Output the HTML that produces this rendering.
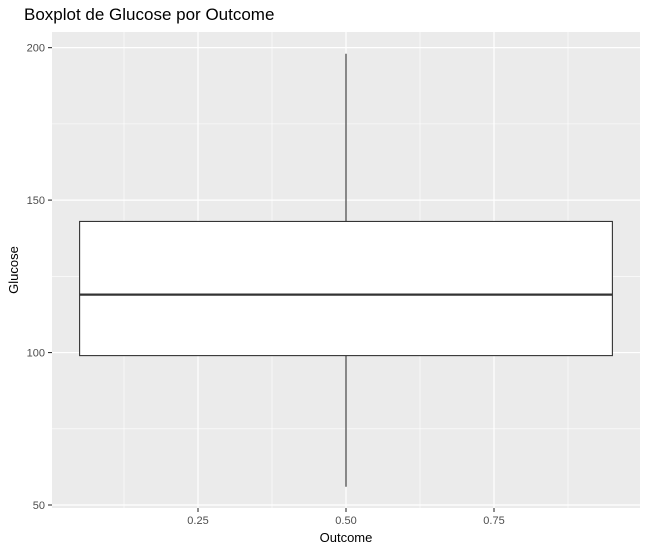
<!DOCTYPE html>
<html><head><meta charset="utf-8"><style>
body{margin:0;background:#fff;font-family:"Liberation Sans",sans-serif}
</style></head><body>
<svg id="c" width="647" height="553" xmlns="http://www.w3.org/2000/svg">
<text x="24" y="20" font-size="17" fill="#000">Boxplot de Glucose por Outcome</text>
<rect x="52" y="32" width="588" height="476" fill="#ebebeb"/>
<g id="grid"></g><g id="box"></g><g id="axes"></g>
<text x="346" y="542" font-size="13" text-anchor="middle" fill="#000">Outcome</text>
<text transform="translate(18,270) rotate(-90)" font-size="13" text-anchor="middle" fill="#000">Glucose</text>
</svg>
<script>
const yTicks=[50,100,150,200];
const yMinor=[75,125,175];
const xTicks=[0.25,0.5,0.75];
const xTickLabels=["0.25","0.50","0.75"];
const xMinor=[0.125,0.375,0.625,0.875];
const stats=[56,99,119,143,198]; // lower whisker, Q1, median, Q3, upper whisker
const boxCenter=[0.5];
const boxWidth=[0.9];
const NS="http://www.w3.org/2000/svg";
const X=v=>346+(v-0.5)*592;
const Y=v=>505-(v-50)*3.049;
function mk(p,t,a){const e=document.createElementNS(NS,t);for(const k in a)e.setAttribute(k,a[k]);document.getElementById(p).appendChild(e);return e;}
yMinor.forEach(v=>{const e=mk('grid','line',{x1:52,x2:640,y1:Y(v),y2:Y(v),stroke:'#fff','stroke-width':0.6});

});
xMinor.forEach(v=>{const e=mk('grid','line',{x1:X(v),x2:X(v),y1:32,y2:508,stroke:'#fff','stroke-width':0.6});

});
yTicks.forEach(v=>{const e=mk('grid','line',{x1:52,x2:640,y1:Y(v),y2:Y(v),stroke:'#fff','stroke-width':1.2});


const t=mk('axes','line',{x1:48,x2:52,y1:Y(v),y2:Y(v),stroke:'#333','stroke-width':1.1});


const l=mk('axes','text',{x:45,y:Y(v)+4,'font-size':11,'text-anchor':'end',fill:'#4d4d4d'});l.textContent=v;

});
xTicks.forEach((v,i)=>{const e=mk('grid','line',{x1:X(v),x2:X(v),y1:32,y2:508,stroke:'#fff','stroke-width':1.2});


const t=mk('axes','line',{x1:X(v),x2:X(v),y1:508,y2:512,stroke:'#333','stroke-width':1.1});


const l=mk('axes','text',{x:X(v),y:524,'font-size':11,'text-anchor':'middle',fill:'#4d4d4d'});l.textContent=xTickLabels[i];

});
const c=boxCenter[0],w=boxWidth[0];
let e=mk('box','line',{x1:X(c),x2:X(c),y1:Y(stats[0]),y2:Y(stats[1]),stroke:'#333','stroke-width':1.1});


e=mk('box','line',{x1:X(c),x2:X(c),y1:Y(stats[3]),y2:Y(stats[4]),stroke:'#333','stroke-width':1.1});


e=mk('box','rect',{x:X(c-w/2),y:Y(stats[3]),width:X(c+w/2)-X(c-w/2),height:Y(stats[1])-Y(stats[3]),fill:'#fff',stroke:'#333','stroke-width':1.1});


e=mk('box','line',{x1:X(c-w/2),x2:X(c+w/2),y1:Y(stats[2]),y2:Y(stats[2]),stroke:'#333','stroke-width':2.2});


</script>
</body></html>
